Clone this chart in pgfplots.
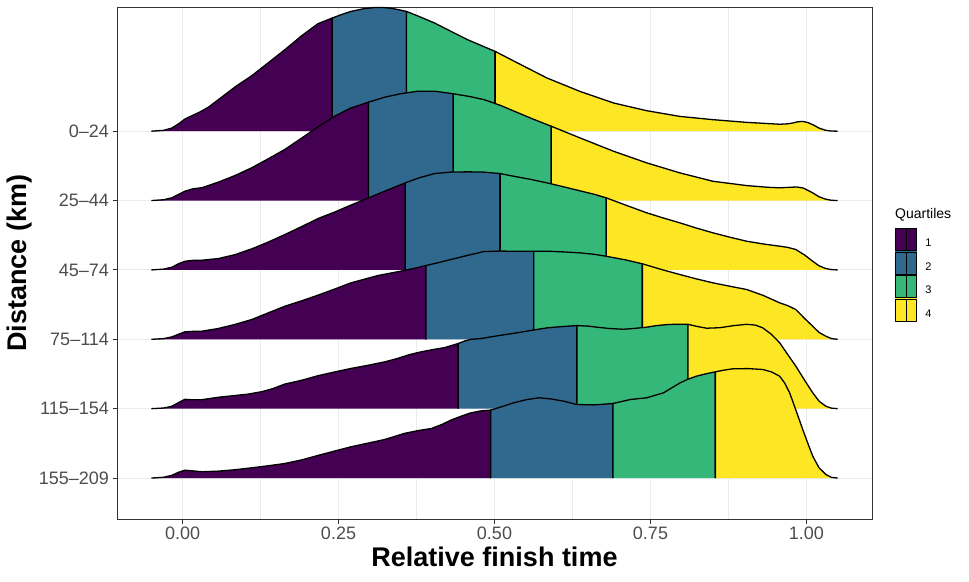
\documentclass[border=0pt]{standalone}
\usepackage{fontspec}
\setmainfont{Liberation Sans}
\usepackage{pgfplots}
\pgfplotsset{compat=1.18}
\definecolor{qa}{HTML}{440154}
\definecolor{qb}{HTML}{31688E}
\definecolor{qc}{HTML}{35B779}
\definecolor{qd}{HTML}{FDE725}
\definecolor{grid92}{HTML}{EBEBEB}
\definecolor{grey20}{HTML}{333333}
\definecolor{grey30}{HTML}{4D4D4D}
\newcommand{\qkey}[1]{%
  \fill[#1] (0pt,-7.1pt) rectangle (21pt,15.1pt);
  \draw[black,line width=0.9pt] (0pt,-7.1pt) rectangle (21pt,15.1pt);
  \draw[black,line width=0.9pt] (10.5pt,-7.1pt) -- (10.5pt,15.1pt);}
\begin{document}
\begin{tikzpicture}
\useasboundingbox (0,0) rectangle (969pt,581pt);
\begin{axis}[
  at={(117pt,62pt)}, anchor=south west,
  width=755pt, height=512pt, scale only axis,
  xmin=-0.105, xmax=1.105, ymin=0.41, ymax=7.79,
  xtick={0,0.25,0.5,0.75,1}, xticklabels={0.00,0.25,0.50,0.75,1.00},
  minor xtick={0.125,0.375,0.625,0.875},
  ytick={1,2,3,4,5,6}, yticklabels={155--209,115--154,75--114,45--74,25--44,0--24},
  xmajorgrids, xminorgrids, ymajorgrids,
  major grid style={grid92, line width=1.1pt},
  minor grid style={grid92, line width=0.55pt},
  tick align=outside, xtick pos=bottom, ytick pos=left,
  major tick length=4.5pt, minor tick length=0pt,
  tick style={grey20, line width=0.9pt},
  axis line style={grey20, line width=0.9pt},
  tick label style={font=\fontsize{18}{18}\selectfont, text=grey30},
  xlabel={Relative finish time}, ylabel={Distance (km)},
  every axis x label/.style={at={(axis description cs:0.5,-0.0742)}, anchor=center, font=\fontsize{27}{27}\selectfont\bfseries},
  every axis y label/.style={at={(axis description cs:-0.1285,0.5)}, anchor=center, rotate=90, font=\fontsize{27}{27}\selectfont\bfseries},
  legend style={at={(axis description cs:1.0305,0.5684)}, anchor=north west, draw=none, fill=none,
    inner sep=0pt, outer sep=0pt, row sep=0pt, column sep=8pt,
    font=\fontsize{11}{11}\selectfont, nodes={inner sep=0pt}},
  legend cell align=left,
  every axis plot/.append style={line width=1.3pt, line join=round},
]
\addlegendimage{legend image code/.code={\qkey{qa}}}\addlegendentry{1}
\addlegendimage{legend image code/.code={\qkey{qb}}}\addlegendentry{2}
\addlegendimage{legend image code/.code={\qkey{qc}}}\addlegendentry{3}
\addlegendimage{legend image code/.code={\qkey{qd}}}\addlegendentry{4}

% ---- 0-24 (base 6)
\addplot[fill=qa, draw=black] coordinates {(-0.05,6) (-0.03,6.012) (-0.017,6.046) (-0.006,6.108) (0.004,6.176) (0.015,6.223) (0.028,6.277) (0.042,6.349) (0.0575,6.454) (0.084,6.637) (0.111,6.80) (0.137,6.983) (0.164,7.174) (0.191,7.376) (0.217,7.549) (0.240,7.631) (0.240,6)};
\addplot[fill=qb, draw=black] coordinates {(0.240,6) (0.240,7.631) (0.255,7.682) (0.270,7.726) (0.290,7.765) (0.308,7.783) (0.322,7.782) (0.334,7.772) (0.346,7.752) (0.359,7.726) (0.359,6)};
\addplot[fill=qc, draw=black] coordinates {(0.359,6) (0.359,7.726) (0.380,7.65) (0.404,7.559) (0.430,7.44) (0.457,7.318) (0.480,7.23) (0.501,7.150) (0.501,6)};
\addplot[fill=qd, draw=black] coordinates {(0.501,6) (0.501,7.150) (0.537,6.983) (0.584,6.767) (0.637,6.573) (0.691,6.406) (0.744,6.295) (0.797,6.213) (0.850,6.166) (0.904,6.127) (0.957,6.100) (0.970,6.106) (0.978,6.118) (0.986,6.135) (0.994,6.141) (1.002,6.125) (1.010,6.094) (1.020,6.045) (1.031,6.012) (1.04,6.002) (1.05,6)};

% ---- 25-44 (base 5)
\addplot[fill=qa, draw=black] coordinates {(-0.05,5) (-0.03,5.012) (-0.017,5.04) (-0.006,5.09) (0.004,5.136) (0.017,5.17) (0.031,5.185) (0.0575,5.266) (0.084,5.36) (0.111,5.473) (0.137,5.60) (0.164,5.737) (0.186,5.87) (0.207,6.0) (0.226,6.112) (0.244,6.217) (0.270,6.335) (0.298,6.418) (0.298,5)};
\addplot[fill=qb, draw=black] coordinates {(0.298,5) (0.298,6.418) (0.324,6.49) (0.350,6.54) (0.377,6.576) (0.405,6.575) (0.434,6.539) (0.434,5)};
\addplot[fill=qc, draw=black] coordinates {(0.434,5) (0.434,6.539) (0.460,6.50) (0.483,6.455) (0.510,6.37) (0.535,6.275) (0.563,6.17) (0.591,6.071) (0.591,5)};
\addplot[fill=qd, draw=black] coordinates {(0.591,5) (0.591,6.071) (0.637,5.903) (0.691,5.71) (0.744,5.543) (0.797,5.399) (0.850,5.278) (0.904,5.216) (0.940,5.19) (0.957,5.184) (0.972,5.19) (0.984,5.196) (0.995,5.18) (1.010,5.111) (1.020,5.055) (1.031,5.019) (1.04,5.004) (1.05,5)};

% ---- 45-74 (base 4)
\addplot[fill=qa, draw=black] coordinates {(-0.05,4) (-0.03,4.012) (-0.017,4.04) (-0.006,4.09) (0.004,4.125) (0.017,4.138) (0.031,4.14) (0.0575,4.164) (0.084,4.22) (0.111,4.304) (0.137,4.40) (0.164,4.51) (0.191,4.625) (0.217,4.74) (0.244,4.835) (0.270,4.935) (0.297,5.035) (0.324,5.135) (0.357,5.255) (0.357,4)};
\addplot[fill=qb, draw=black] coordinates {(0.357,4) (0.357,5.255) (0.380,5.33) (0.404,5.389) (0.430,5.41) (0.457,5.414) (0.483,5.41) (0.509,5.389) (0.509,4)};
\addplot[fill=qc, draw=black] coordinates {(0.509,4) (0.509,5.389) (0.531,5.35) (0.558,5.305) (0.584,5.255) (0.610,5.20) (0.637,5.14) (0.660,5.09) (0.679,5.039) (0.679,4)};
\addplot[fill=qd, draw=black] coordinates {(0.679,4) (0.679,5.039) (0.710,4.935) (0.744,4.823) (0.770,4.75) (0.797,4.679) (0.823,4.605) (0.850,4.535) (0.877,4.472) (0.904,4.414) (0.930,4.375) (0.957,4.342) (0.970,4.325) (0.983,4.294) (0.997,4.215) (1.010,4.125) (1.020,4.06) (1.031,4.02) (1.04,4.005) (1.05,4)};

% ---- 75-114 (base 3)
\addplot[fill=qa, draw=black] coordinates {(-0.05,3) (-0.03,3.01) (-0.017,3.035) (-0.006,3.075) (0.004,3.108) (0.017,3.115) (0.031,3.117) (0.0575,3.156) (0.084,3.215) (0.111,3.285) (0.137,3.38) (0.164,3.477) (0.191,3.555) (0.217,3.636) (0.244,3.725) (0.270,3.814) (0.292,3.868) (0.313,3.919) (0.332,3.952) (0.349,3.981) (0.370,4.02) (0.390,4.063) (0.390,3)};
\addplot[fill=qb, draw=black] coordinates {(0.390,3) (0.390,4.063) (0.410,4.105) (0.430,4.15) (0.457,4.21) (0.483,4.265) (0.510,4.272) (0.537,4.268) (0.563,4.268) (0.563,3)};
\addplot[fill=qc, draw=black] coordinates {(0.563,3) (0.563,4.268) (0.584,4.27) (0.610,4.26) (0.637,4.246) (0.660,4.225) (0.679,4.197) (0.710,4.145) (0.737,4.088) (0.737,3)};
\addplot[fill=qd, draw=black] coordinates {(0.737,3) (0.737,4.088) (0.770,4.0) (0.797,3.934) (0.823,3.872) (0.850,3.814) (0.877,3.765) (0.904,3.718) (0.930,3.635) (0.957,3.526) (0.970,3.485) (0.983,3.429) (0.997,3.30) (1.010,3.189) (1.020,3.10) (1.031,3.045) (1.04,3.01) (1.05,3)};

% ---- 115-154 (base 2)
\addplot[fill=qa, draw=black] coordinates {(-0.05,2) (-0.03,2.01) (-0.017,2.035) (-0.006,2.09) (0.004,2.135) (0.017,2.128) (0.031,2.13) (0.0575,2.165) (0.084,2.19) (0.105,2.21) (0.127,2.245) (0.145,2.29) (0.164,2.355) (0.191,2.41) (0.217,2.475) (0.244,2.53) (0.270,2.58) (0.297,2.625) (0.324,2.675) (0.345,2.725) (0.362,2.775) (0.380,2.815) (0.400,2.85) (0.420,2.88) (0.442,2.94) (0.442,2)};
\addplot[fill=qb, draw=black] coordinates {(0.442,2) (0.442,2.94) (0.452,2.975) (0.462,3.0) (0.478,3.01) (0.494,3.035) (0.515,3.065) (0.537,3.095) (0.560,3.13) (0.584,3.165) (0.610,3.185) (0.632,3.198) (0.632,2)};
\addplot[fill=qc, draw=black] coordinates {(0.632,2) (0.632,3.198) (0.650,3.19) (0.664,3.175) (0.685,3.155) (0.707,3.145) (0.725,3.158) (0.744,3.175) (0.760,3.198) (0.776,3.212) (0.793,3.218) (0.810,3.216) (0.810,2)};
\addplot[fill=qd, draw=black] coordinates {(0.810,2) (0.810,3.216) (0.825,3.185) (0.840,3.16) (0.861,3.167) (0.883,3.197) (0.904,3.216) (0.918,3.205) (0.930,3.165) (0.944,3.07) (0.957,2.95) (0.970,2.78) (0.983,2.612) (0.997,2.41) (1.010,2.229) (1.020,2.11) (1.031,2.036) (1.04,2.008) (1.05,2)};

% ---- 155-209 (base 1)
\addplot[fill=qa, draw=black] coordinates {(-0.05,1) (-0.03,1.012) (-0.017,1.04) (-0.006,1.085) (0.004,1.114) (0.017,1.103) (0.031,1.091) (0.0575,1.1) (0.084,1.12) (0.111,1.148) (0.137,1.177) (0.164,1.21) (0.191,1.262) (0.217,1.326) (0.244,1.39) (0.270,1.451) (0.297,1.503) (0.324,1.556) (0.340,1.60) (0.356,1.645) (0.378,1.685) (0.399,1.715) (0.415,1.77) (0.430,1.835) (0.446,1.89) (0.462,1.94) (0.478,1.968) (0.494,1.98) (0.494,1)};
\addplot[fill=qb, draw=black] coordinates {(0.494,1) (0.494,1.98) (0.512,2.03) (0.531,2.085) (0.551,2.13) (0.571,2.157) (0.591,2.14) (0.611,2.108) (0.632,2.06) (0.660,2.055) (0.690,2.075) (0.690,1)};
\addplot[fill=qc, draw=black] coordinates {(0.690,1) (0.690,2.075) (0.718,2.133) (0.744,2.157) (0.771,2.229) (0.797,2.37) (0.810,2.425) (0.824,2.47) (0.840,2.505) (0.854,2.532) (0.854,1)};
\addplot[fill=qd, draw=black] coordinates {(0.854,1) (0.854,2.532) (0.868,2.556) (0.882,2.575) (0.906,2.578) (0.930,2.565) (0.944,2.53) (0.957,2.468) (0.965,2.37) (0.973,2.229) (0.983,1.98) (0.994,1.70) (1.002,1.505) (1.010,1.316) (1.020,1.15) (1.031,1.052) (1.04,1.01) (1.05,1)};
\end{axis}
\node[anchor=base west, inner sep=0pt, font=\fontsize{14}{14}\selectfont] at (895pt,362pt) {Quartiles};
\end{tikzpicture}
\end{document}
